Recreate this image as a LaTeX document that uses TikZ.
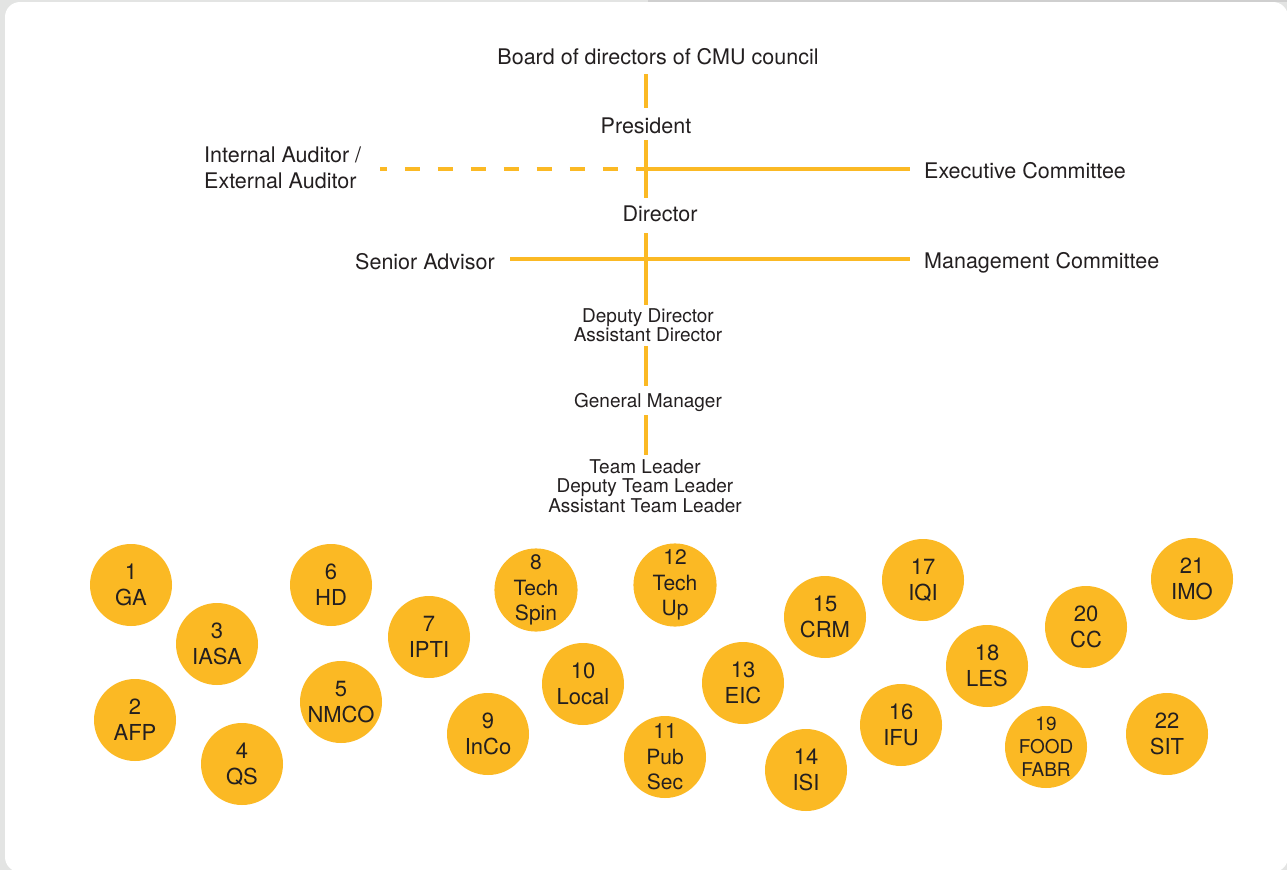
\documentclass[tikz,border=0pt]{standalone}
\usepackage{fontspec}
\setmainfont{TeX Gyre Heros}
\definecolor{cmuyellow}{HTML}{FBB924}
\definecolor{ink}{HTML}{231F20}
\definecolor{bggray}{HTML}{E3E4E3}
\definecolor{edgegray}{HTML}{CFCFCF}
\begin{document}
\begin{tikzpicture}[x=1pt,y=-1pt,
  lbl/.style={text=ink, inner sep=0pt, text height=0.72em, text depth=0pt, font=\fontsize{21.5}{26}\selectfont},
  lblmulti/.style={text=ink, inner sep=0pt, font=\fontsize{21.5}{26}\selectfont},
  sml/.style={text=ink, inner sep=0pt, align=center, font=\fontsize{19}{19.5}\selectfont},
  unit/.style={circle, fill=cmuyellow, minimum size=82pt, inner sep=0pt, align=center, text=ink, font=\fontsize{22}{26}\selectfont},
  unitthree/.style={unit, font=\fontsize{21}{25.5}\selectfont},
  unitsmall/.style={unit, font=\fontsize{19}{23}\selectfont},
  conn/.style={draw=cmuyellow, line width=4pt},
  dashconn/.style={conn, dash pattern=on 15.5pt off 17.5pt, dash phase=8.5pt}]
\useasboundingbox (0,0) rectangle (1287,870);
% background
\fill[bggray] (0,0) rectangle (1287,870);
\fill[edgegray] (648,0) rectangle (1287,2);
\fill[white, rounded corners=15pt] (5,2) rectangle (1288,872);

% hierarchy labels
\node[lbl] (board) at (658,61) {Board of directors of CMU council};
\node[lbl] (pres) at (646,130) {President};
\node[lblmulti, anchor=west, align=left] (aud) at (204,168) {Internal Auditor /\\External Auditor};
\node[lbl, anchor=west] (exec) at (924,175) {Executive Committee};
\node[lbl] (dir) at (660,218) {Director};
\node[lbl, anchor=east] (senior) at (495,266) {Senior Advisor};
\node[lbl, anchor=west] (mgmt) at (924,265) {Management Committee};
\node[sml] (deputy) at (648,325) {Deputy Director\\Assistant Director};
\node[sml] (gm) at (648,402) {General Manager};
\node[sml] (team) at (645,486) {Team Leader\\Deputy Team Leader\\Assistant Team Leader};

\coordinate (spine) at (646,0);
\coordinate (j1) at (646,169);
\coordinate (j2) at (646,259);

% horizontal connectors
\draw[dashconn, shorten <=19pt] (aud.east |- j1) -- (j1);
\draw[conn, shorten >=14pt] (j1) -- (exec.west |- j1);
\draw[conn, shorten <=15pt, shorten >=14pt] (senior.east |- j2) -- (mgmt.west |- j2);

% vertical connectors
\draw[conn, shorten <=13pt, shorten >=22pt] (board.center -| spine) -- (pres.center -| spine);
\draw[conn, shorten <=10pt, shorten >=20pt] (pres.center -| spine) -- (dir.center -| spine);
\draw[conn, shorten <=15pt, shorten >=20pt] (dir.center -| spine) -- (deputy.center -| spine);
\draw[conn, shorten <=21pt, shorten >=16pt] (deputy.center -| spine) -- (gm.center -| spine);
\draw[conn, shorten <=13pt, shorten >=31pt] (gm.center -| spine) -- (team.center -| spine);

% units
\node[unit] (u1) at (131,585) {1\\GA};
\node[unit] (u2) at (135,720) {2\\AFP};
\node[unit] (u3) at (217,644) {3\\IASA};
\node[unit] (u4) at (242,764) {4\\QS};
\node[unit] (u5) at (341,702) {5\\NMCO};
\node[unit] (u6) at (331,585) {6\\HD};
\node[unit] (u7) at (429,637) {7\\IPTI};
\node[unitthree] (u8) at (536,590) {8\\Tech\\Spin};
\node[unit] (u9) at (488,734) {9\\InCo};
\node[unit] (u10) at (583,684) {10\\Local};
\node[unitthree] (u11) at (665,757) {11\\Pub\\Sec};
\node[unitthree] (u12) at (675,585) {12\\Tech\\Up};
\node[unit] (u13) at (743,683) {13\\EIC};
\node[unit] (u14) at (806,770) {14\\ISI};
\node[unit] (u15) at (825,617) {15\\CRM};
\node[unit] (u16) at (901,725) {16\\IFU};
\node[unit] (u17) at (923,580) {17\\IQI};
\node[unit] (u18) at (987,666) {18\\LES};
\node[unitsmall] (u19) at (1046,747) {19\\FOOD\\FABR};
\node[unit] (u20) at (1086,627) {20\\CC};
\node[unit] (u21) at (1192,579) {21\\IMO};
\node[unit] (u22) at (1167,734) {22\\SIT};
\end{tikzpicture}
\end{document}
